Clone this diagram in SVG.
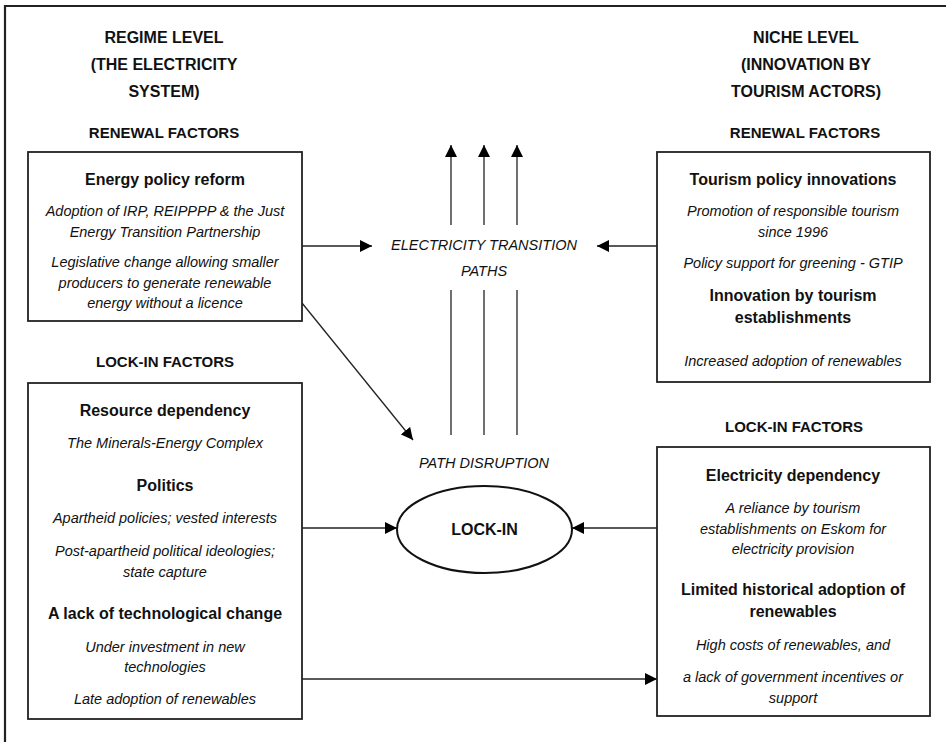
<svg xmlns="http://www.w3.org/2000/svg" width="946" height="742" viewBox="0 0 946 742">
<style>
text{font-family:"Liberation Sans",Arial,sans-serif;fill:#111;text-anchor:middle}
.hd{font-size:16px;font-weight:bold}
.sec{font-size:15px;font-weight:bold}
.ti{font-size:16px;font-weight:bold}
.it{font-size:14.5px;font-style:italic}
.box{fill:#fff;stroke:#222;stroke-width:1.8}
.ln{stroke:#222;stroke-width:1.3;fill:none}
</style>
<defs>
<marker id="ah" viewBox="0 0 12 12" refX="12" refY="6" markerWidth="12" markerHeight="12" markerUnits="userSpaceOnUse" orient="auto">
<path d="M0,0 L12,6 L0,12 Z" fill="#000"/>
</marker>
</defs>
<rect width="946" height="742" fill="#fff"/>
<g id="frame">
<path d="M5,742 V6 H946" fill="none" stroke="#222" stroke-width="2.2"/>
</g>
<g id="headers">
<text class="hd" x="164" y="43">REGIME LEVEL</text>
<text class="hd" x="164" y="70">(THE ELECTRICITY</text>
<text class="hd" x="164" y="97">SYSTEM)</text>
<text class="sec" x="164" y="138">RENEWAL FACTORS</text>
<text class="sec" x="165" y="367">LOCK-IN FACTORS</text>
<text class="hd" x="806" y="43">NICHE LEVEL</text>
<text class="hd" x="806" y="70">(INNOVATION BY</text>
<text class="hd" x="806" y="97">TOURISM ACTORS)</text>
<text class="sec" x="805" y="138">RENEWAL FACTORS</text>
<text class="sec" x="794" y="432">LOCK-IN FACTORS</text>
</g>
<g id="connectors">
<line class="ln" x1="451" y1="225" x2="451" y2="145" marker-end="url(#ah)"/>
<line class="ln" x1="484" y1="225" x2="484" y2="145" marker-end="url(#ah)"/>
<line class="ln" x1="517" y1="225" x2="517" y2="145" marker-end="url(#ah)"/>
<line class="ln" x1="451" y1="290" x2="451" y2="435"/>
<line class="ln" x1="484" y1="290" x2="484" y2="435"/>
<line class="ln" x1="517" y1="290" x2="517" y2="435"/>
<line class="ln" x1="302" y1="246" x2="372" y2="246" marker-end="url(#ah)"/>
<line class="ln" x1="657" y1="246" x2="597" y2="246" marker-end="url(#ah)"/>
<line class="ln" x1="302" y1="303" x2="413" y2="440" marker-end="url(#ah)"/>
<line class="ln" x1="302" y1="528" x2="397" y2="528" marker-end="url(#ah)"/>
<line class="ln" x1="657" y1="528" x2="572" y2="528" marker-end="url(#ah)"/>
<line class="ln" x1="302" y1="679" x2="657" y2="679" marker-end="url(#ah)"/>
</g>
<g id="transition-paths">
<text class="it" x="484" y="250">ELECTRICITY TRANSITION</text>
<text class="it" x="484" y="276">PATHS</text>
</g>
<g id="path-disruption">
<text class="it" x="484" y="468">PATH DISRUPTION</text>
</g>
<g id="lock-in">
<ellipse cx="484.5" cy="529.5" rx="87.5" ry="43.5" fill="#fff" stroke="#111" stroke-width="2"/>
<text class="ti" x="484.5" y="535">LOCK-IN</text>
</g>
<g id="regime-renewal">
<rect class="box" x="28" y="152" width="274" height="169"/>
<text class="ti" x="165" y="185">Energy policy reform</text>
<text class="it" x="165" y="216">Adoption of IRP, REIPPPP &amp; the Just</text>
<text class="it" x="165" y="237">Energy Transition Partnership</text>
<text class="it" x="165" y="267">Legislative change allowing smaller</text>
<text class="it" x="165" y="288">producers to generate renewable</text>
<text class="it" x="165" y="308">energy without a licence</text>
</g>
<g id="regime-lockin">
<rect class="box" x="28" y="383" width="274" height="336"/>
<text class="ti" x="165" y="416">Resource dependency</text>
<text class="it" x="165" y="448">The Minerals-Energy Complex</text>
<text class="ti" x="165" y="491">Politics</text>
<text class="it" x="165" y="523">Apartheid policies; vested interests</text>
<text class="it" x="165" y="556">Post-apartheid political ideologies;</text>
<text class="it" x="165" y="577">state capture</text>
<text class="ti" x="165" y="619">A lack of technological change</text>
<text class="it" x="165" y="652">Under investment in new</text>
<text class="it" x="165" y="672">technologies</text>
<text class="it" x="165" y="704">Late adoption of renewables</text>
</g>
<g id="niche-renewal">
<rect class="box" x="657" y="152" width="273" height="230"/>
<text class="ti" x="793" y="185">Tourism policy innovations</text>
<text class="it" x="793" y="216">Promotion of responsible tourism</text>
<text class="it" x="793" y="237">since 1996</text>
<text class="it" x="793" y="268">Policy support for greening - GTIP</text>
<text class="ti" x="793" y="301">Innovation by tourism</text>
<text class="ti" x="793" y="323">establishments</text>
<text class="it" x="793" y="366">Increased adoption of renewables</text>
</g>
<g id="niche-lockin">
<rect class="box" x="657" y="447" width="273" height="269"/>
<text class="ti" x="793" y="481">Electricity dependency</text>
<text class="it" x="793" y="513">A reliance by tourism</text>
<text class="it" x="793" y="534">establishments on Eskom for</text>
<text class="it" x="793" y="554">electricity provision</text>
<text class="ti" x="793" y="595">Limited historical adoption of</text>
<text class="ti" x="793" y="617">renewables</text>
<text class="it" x="793" y="650">High costs of renewables, and</text>
<text class="it" x="793" y="682">a lack of government incentives or</text>
<text class="it" x="793" y="703">support</text>
</g>
</svg>
